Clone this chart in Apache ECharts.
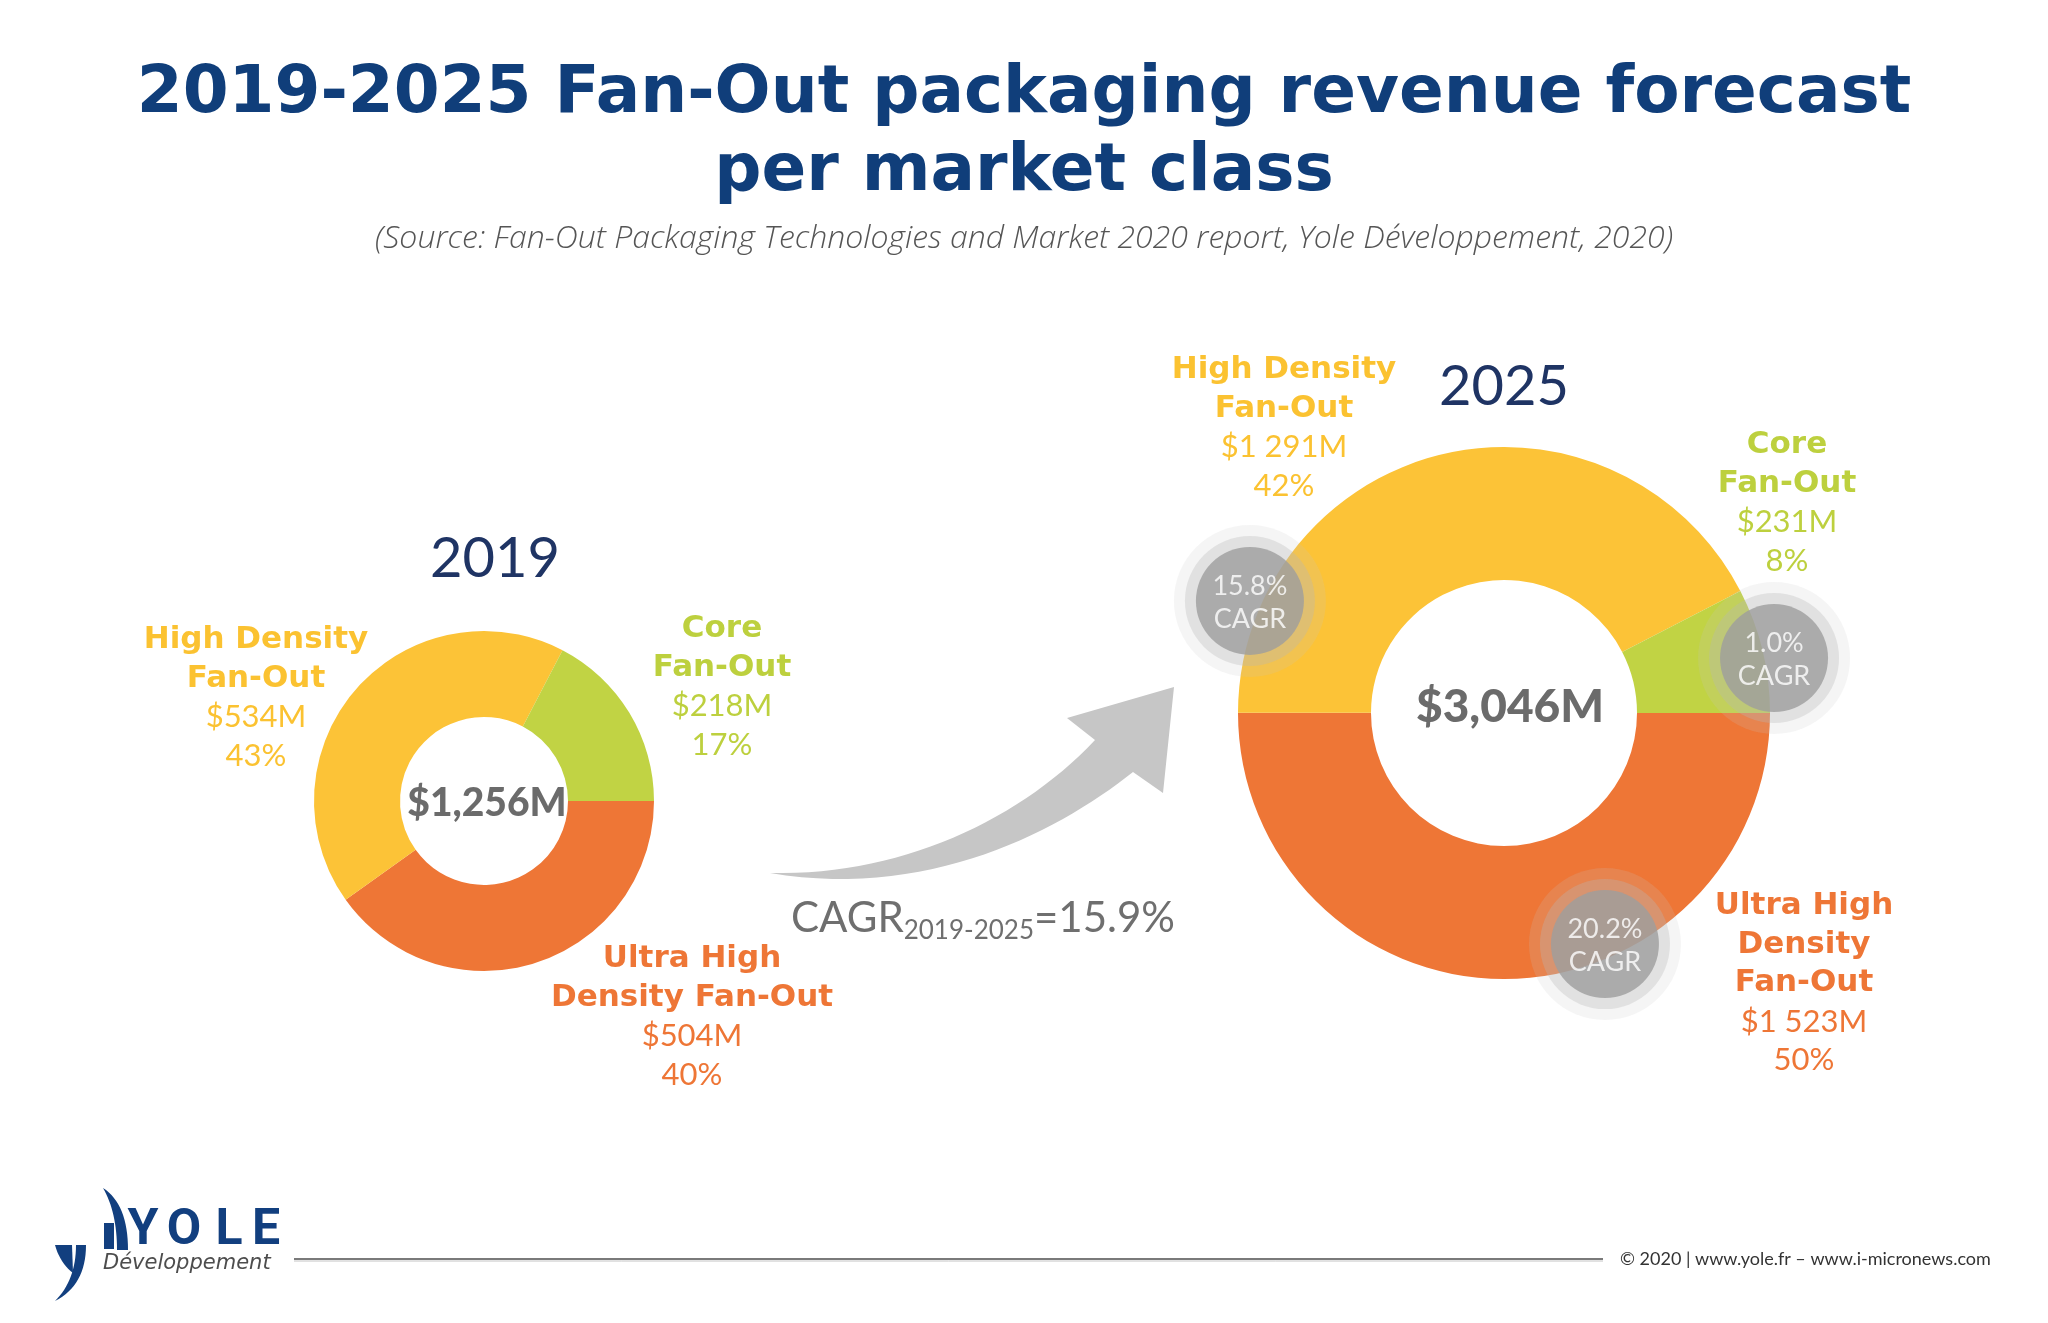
<!DOCTYPE html>
<html><head><meta charset="utf-8">
<script src="https://cdn.jsdelivr.net/npm/echarts@6/dist/echarts.min.js"></script>
<style>html,body{margin:0;padding:0;background:#fff}#c{width:2048px;height:1323px}</style>
</head><body><div id="c"></div>
<script>
// ---------------- DATA ----------------
const segments = ['Ultra High Density Fan-Out', 'High Density Fan-Out', 'Core Fan-Out'];
const years = ['2019', '2025'];
const revenue2019 = [504, 534, 218];
const revenue2025 = [1523, 1291, 231];
const share2019 = [40, 43, 17];
const share2025 = [50, 42, 8];
const totals = [1256, 3046];
const segmentCagr = [20.2, 15.8, 1.0];
const totalCagr = 15.9;
const cagrPeriod = '2019-2025';
const nameLines2019 = [['Ultra High', 'Density Fan-Out'], ['High Density', 'Fan-Out'], ['Core', 'Fan-Out']];
const nameLines2025 = [['Ultra High', 'Density', 'Fan-Out'], ['High Density', 'Fan-Out'], ['Core', 'Fan-Out']];
const titleText = '2019-2025 Fan-Out packaging revenue forecast\nper market class';
const sourceText = '(Source: Fan-Out Packaging Technologies and Market 2020 report, Yole Développement, 2020)';
const footerText = '© 2020 | www.yole.fr – www.i-micronews.com';

// ---------------- LAYOUT / STYLE ----------------
const SLICE_COLORS = ['#EE7636', '#FCC337', '#C1D344'];
const TEXT_COLORS = ['#EE7636', '#FBC231', '#BDD03E'];
const PIES = [{ center: [484, 801], radius: [84, 170] }, { center: [1504, 713], radius: [133, 266] }];
const LABEL_POS = [
  [[692, 959], [256, 640], [722, 629]],
  [[1804, 906], [1284, 370], [1787, 445]]
];
const YEAR_POS = [[495, 559], [1504, 387]];
const TOTAL_POS = [[487, 803], [1510, 707]];
const TOTAL_SIZE = [39, 46];
const BUBBLE_POLAR = [[0.948, 293.6], [1.044, 156.2], [1.036, 11.5]];
const LH = 38.5;
const FONT = 'Lato';
const BOLD_FONT = 'DejaVu Sans';

function fmtSpace(v) { return v >= 1000 ? Math.floor(v / 1000) + ' ' + String(v % 1000).padStart(3, '0') : String(v); }
function fmtComma(v) { return v >= 1000 ? Math.floor(v / 1000) + ',' + String(v % 1000).padStart(3, '0') : String(v); }

// decorative curve sampling helpers (for arrow & logo outlines)
function cubic(p0, c1, c2, p1, n) {
  const out = [];
  for (let i = 0; i <= n; i++) {
    const t = i / n, u = 1 - t;
    out.push([u * u * u * p0[0] + 3 * u * u * t * c1[0] + 3 * u * t * t * c2[0] + t * t * t * p1[0],
              u * u * u * p0[1] + 3 * u * u * t * c1[1] + 3 * u * t * t * c2[1] + t * t * t * p1[1]]);
  }
  return out;
}
function quad(p0, c, p1, n) {
  const out = [];
  for (let i = 0; i <= n; i++) {
    const t = i / n, u = 1 - t;
    out.push([u * u * p0[0] + 2 * u * t * c[0] + t * t * p1[0], u * u * p0[1] + 2 * u * t * c[1] + t * t * p1[1]]);
  }
  return out;
}

const graphics = [];
function txt(x, y, text, o) {
  graphics.push({
    type: 'text', silent: true, z: 10,
    style: Object.assign({ x: x, y: y, text: text, align: 'center', verticalAlign: 'middle', fontFamily: FONT }, o)
  });
}

// segment labels
[[revenue2019, share2019, nameLines2019], [revenue2025, share2025, nameLines2025]].forEach(function (yr, yi) {
  const rev = yr[0], sh = yr[1], names = yr[2];
  segments.forEach(function (s, si) {
    const p = LABEL_POS[yi][si];
    const lines = names[si];
    let y = p[1];
    lines.forEach(function (l) { txt(p[0], y, l, { fontFamily: BOLD_FONT, fontSize: 31, fontWeight: 700, fill: TEXT_COLORS[si] }); y += LH; });
    txt(p[0], y, '$' + fmtSpace(rev[si]) + 'M', { fontSize: 31, fontWeight: 400, fill: TEXT_COLORS[si] }); y += LH;
    txt(p[0], y, sh[si] + '%', { fontSize: 31, fontWeight: 400, fill: TEXT_COLORS[si] });
  });
  txt(YEAR_POS[yi][0], YEAR_POS[yi][1], years[yi], { fontSize: 56, fontWeight: 400, fill: '#1F3464' });
  txt(TOTAL_POS[yi][0], TOTAL_POS[yi][1], '$' + fmtComma(totals[yi]) + 'M', { fontSize: TOTAL_SIZE[yi], fontWeight: 900, fill: '#6B6B6B' });
});

// growth arrow
const arrowPts = [].concat(
  cubic([770, 873], [900, 876], [1020, 820], [1095, 740], 30),
  [[1067, 718], [1174, 687], [1163, 793]],
  cubic([1133, 772], [1060, 830], [930, 900], [770, 873], 30)
);
graphics.push({ type: 'polygon', silent: true, z: 1, shape: { points: arrowPts }, style: { fill: '#C6C6C6' } });
// overall CAGR text
graphics.push({
  type: 'text', silent: true, z: 10,
  style: {
    x: 791, y: 892, align: 'left', verticalAlign: 'top',
    text: '{a|CAGR}{b|' + cagrPeriod + '}{a|=' + totalCagr.toFixed(1) + '%}',
    rich: {
      a: { fontSize: 42, fontFamily: FONT, fill: '#6F6F6F', lineHeight: 52, verticalAlign: 'middle' },
      b: { fontSize: 26, fontFamily: FONT, fill: '#6F6F6F', lineHeight: 24, verticalAlign: 'bottom' }
    }
  }
});

// footer
graphics.push({ type: 'line', silent: true, shape: { x1: 294, y1: 1259, x2: 1603, y2: 1259 }, style: { stroke: '#7A7A7A', lineWidth: 2 } });
graphics.push({ type: 'line', silent: true, shape: { x1: 294, y1: 1261, x2: 1603, y2: 1261 }, style: { stroke: '#C4C4C4', lineWidth: 1 } });
graphics.push({ type: 'text', silent: true, style: { x: 1620, y: 1259, text: footerText, align: 'left', verticalAlign: 'middle', fontFamily: FONT, fontSize: 18, fill: '#333333' } });

// logo
const NAVY = '#123F7F';
graphics.push({ type: 'polygon', silent: true, shape: { points: [].concat(quad([103, 1188], [128, 1204], [128, 1250], 16), quad([117, 1250], [117, 1212], [103, 1188], 16)) }, style: { fill: NAVY } });
graphics.push({ type: 'rect', silent: true, shape: { x: 104, y: 1223, width: 10, height: 26 }, style: { fill: NAVY } });
graphics.push({ type: 'polygon', silent: true, shape: { points: [[55, 1245], [72, 1245], [73, 1273]].concat(quad([73, 1273], [60, 1263], [55, 1245], 10)) }, style: { fill: NAVY } });
graphics.push({ type: 'polygon', silent: true, shape: { points: [[76, 1245], [86, 1245]].concat(quad([86, 1245], [86, 1285], [55, 1301], 16), quad([55, 1301], [76, 1280], [76, 1245], 16)) }, style: { fill: NAVY } });
[['Y', 143], ['O', 184], ['L', 229], ['E', 266]].forEach(function (c) {
  graphics.push({ type: 'text', silent: true, style: { x: c[1], y: 1231, text: c[0], align: 'center', verticalAlign: 'middle', fontFamily: 'Roboto', fontWeight: 700, fontSize: 50, fill: NAVY } });
});
graphics.push({ type: 'text', silent: true, style: { x: 103, y: 1264, text: 'Développement', align: 'left', verticalAlign: 'middle', fontFamily: 'DejaVu Sans', fontStyle: 'italic', fontWeight: 300, fontSize: 21, fill: '#4D4D4D' } });

function pieSeries(yi, values) {
  return {
    type: 'pie', center: PIES[yi].center, radius: PIES[yi].radius, startAngle: 0, clockwise: true,
    silent: true, animation: false, avoidLabelOverlap: false,
    label: { show: false }, labelLine: { show: false },
    itemStyle: { borderWidth: 0 },
    data: segments.map(function (n, i) { return { name: n, value: values[i], itemStyle: { color: SLICE_COLORS[i] } }; })
  };
}
const bubbleData = segmentCagr.map(function (c, i) { return [BUBBLE_POLAR[i][0], BUBBLE_POLAR[i][1], c]; });
function bubble(size, color, z, withLabel) {
  return {
    type: 'scatter', coordinateSystem: 'polar', polarIndex: 0, clip: false, silent: true, animation: false,
    symbol: 'circle', symbolSize: size, itemStyle: { color: color }, z: z, data: bubbleData,
    label: withLabel ? {
      show: true, position: 'inside', offset: [0, 2], color: '#FFFFFF', fontFamily: FONT, fontSize: 27, lineHeight: 33,
      formatter: function (p) { return p.value[2].toFixed(1) + '%\nCAGR'; }
    } : { show: false }
  };
}

const chart = echarts.init(document.getElementById('c'), null, { renderer: 'canvas' });
chart.setOption({
  backgroundColor: '#FFFFFF',
  animation: false,
  title: [
    { text: titleText, left: 'center', top: 56, padding: 0, textStyle: { fontFamily: BOLD_FONT, fontWeight: 700, fontSize: 66, lineHeight: 78, color: '#103E7A' } },
    { text: sourceText, left: 'center', top: 221, padding: 0, textStyle: { fontFamily: 'Open Sans', fontStyle: 'italic', fontWeight: 300, fontSize: 32, lineHeight: 36, color: '#555555' } }
  ],
  polar: { center: [1504, 713], radius: 266 },
  angleAxis: { type: 'value', min: 0, max: 360, startAngle: 0, clockwise: false, show: false, axisLine: { show: false }, axisTick: { show: false }, axisLabel: { show: false }, splitLine: { show: false } },
  radiusAxis: { type: 'value', min: 0, max: 1, show: false, axisLine: { show: false }, axisTick: { show: false }, axisLabel: { show: false }, splitLine: { show: false } },
  series: [
    pieSeries(0, revenue2019),
    pieSeries(1, revenue2025),
    bubble(152, 'rgba(200,200,200,0.22)', 3, false),
    bubble(130, 'rgba(185,185,185,0.4)', 4, false),
    bubble(108, '#9D9D9D', 5, true)
  ],
  graphic: { elements: graphics }
});
</script>
</body></html>
